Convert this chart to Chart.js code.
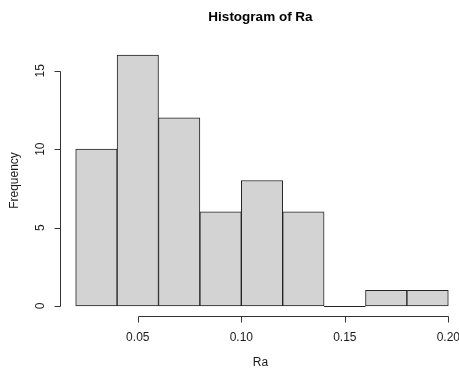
<!DOCTYPE html>
<html>
<head>
<meta charset="utf-8">
<script src="https://cdn.jsdelivr.net/npm/chart.js@4"></script>
<style>
  body { margin: 0; background: #fff; }
  canvas { display: block; }
</style>
</head>
<body>
<canvas id="histChart" width="459" height="370"></canvas>
<script>
// histogram data
const binStarts = [0.02, 0.04, 0.06, 0.08, 0.10, 0.12, 0.14, 0.16, 0.18];
const binWidth = 0.02;
const counts = [10, 16, 12, 6, 8, 6, 0, 1, 1];
const xTicks = [0.05, 0.10, 0.15, 0.20];
const xTickLabels = ["0.05", "0.10", "0.15", "0.20"];
const yTicks = [0, 5, 10, 15];
const chartTitle = "Histogram of Ra";
const xTitle = "Ra";
const yTitle = "Frequency";

const points = binStarts.map((s, i) => ({ x: s + binWidth / 2, y: counts[i] }));

// draws R style axes, labels and title
const rAxes = {
    id: "rAxes",
    afterDraw: function (chart) {
        const ctx = chart.ctx;
        const xs = chart.scales.x;
        const ys = chart.scales.y;
        const area = chart.chartArea;
        const textCol = "#1a1a1a";
        ctx.save();
        ctx.lineWidth = 1;

        // empty bins still get a flat line like R does
        ctx.strokeStyle = "#222";
        const meta = chart.getDatasetMeta(0);
        meta.data.forEach((bar, i) => {
            if (counts[i] === 0) {
                const base = Math.round(ys.getPixelForValue(0)) + 0.5;
                ctx.beginPath();
                ctx.moveTo(bar.x - bar.width / 2, base);
                ctx.lineTo(bar.x + bar.width / 2, base);
                ctx.stroke();
            }
        });

        ctx.strokeStyle = "#333";
        ctx.fillStyle = textCol;

        // x axis
        const xl = Math.round(xs.getPixelForValue(xTicks[0])) + 0.5;
        const xr = Math.round(xs.getPixelForValue(xTicks[xTicks.length - 1])) + 0.5;
        const ax = 316.5;
        ctx.beginPath();
        ctx.moveTo(xl, ax);
        ctx.lineTo(xr, ax);
        xTicks.forEach(t => {
            const px = Math.round(xs.getPixelForValue(t)) + 0.5;
            ctx.moveTo(px, ax);
            ctx.lineTo(px, ax + 6);
        });
        ctx.stroke();
        ctx.font = "12px 'Liberation Sans', Arial, sans-serif";
        ctx.textAlign = "center";
        ctx.textBaseline = "middle";
        xTicks.forEach((t, i) => {
            ctx.fillText(xTickLabels[i], xs.getPixelForValue(t), 337.5);
        });

        // y axis
        const ay = 60.5;
        const yb = Math.round(ys.getPixelForValue(yTicks[0])) + 0.5;
        const yt = Math.round(ys.getPixelForValue(yTicks[yTicks.length - 1])) + 0.5;
        ctx.beginPath();
        ctx.moveTo(ay, yb);
        ctx.lineTo(ay, yt);
        yTicks.forEach(t => {
            const py = Math.round(ys.getPixelForValue(t)) + 0.5;
            ctx.moveTo(ay, py);
            ctx.lineTo(ay - 6, py);
        });
        ctx.stroke();
        yTicks.forEach(t => {
            ctx.save();
            ctx.translate(41, ys.getPixelForValue(t));
            ctx.rotate(-Math.PI / 2);
            ctx.fillText(String(t), 0, 0);
            ctx.restore();
        });

        // axis titles
        const midX = (area.left + 461) / 2;
        ctx.fillText(xTitle, midX, 363);
        ctx.save();
        ctx.translate(15, (area.top + area.bottom) / 2);
        ctx.rotate(-Math.PI / 2);
        ctx.fillText(yTitle, 0, 0);
        ctx.restore();

        // main title
        ctx.fillStyle = "#000";
        ctx.font = "bold 13.5px 'Liberation Sans', Arial, sans-serif";
        ctx.fillText(chartTitle, midX, 17);
        ctx.restore();
    }
};

const ctx = document.getElementById("histChart").getContext("2d");
const chart = new Chart(ctx, {
    type: "bar",
    data: {
        datasets: [{
            data: points,
            backgroundColor: "#d3d3d3",
            borderColor: "#222",
            borderWidth: 1,
            borderSkipped: false,
            barPercentage: 1,
            categoryPercentage: 1,
        }],
    },
    options: {
        responsive: false,
        animation: false,
        layout: {
            padding: { left: 60, top: 45, right: 0, bottom: 54 },
        },
        scales: {
            x: {
                type: "linear",
                offset: false,
                min: 0.012415,
                max: 0.205165,
                display: false,
            },
            y: {
                min: -0.64,
                max: 16.64,
                display: false,
            },
        },
        plugins: {
            legend: { display: false },
            tooltip: { enabled: false },
        },
    },
    plugins: [rAxes],
});
</script>
</body>
</html>
